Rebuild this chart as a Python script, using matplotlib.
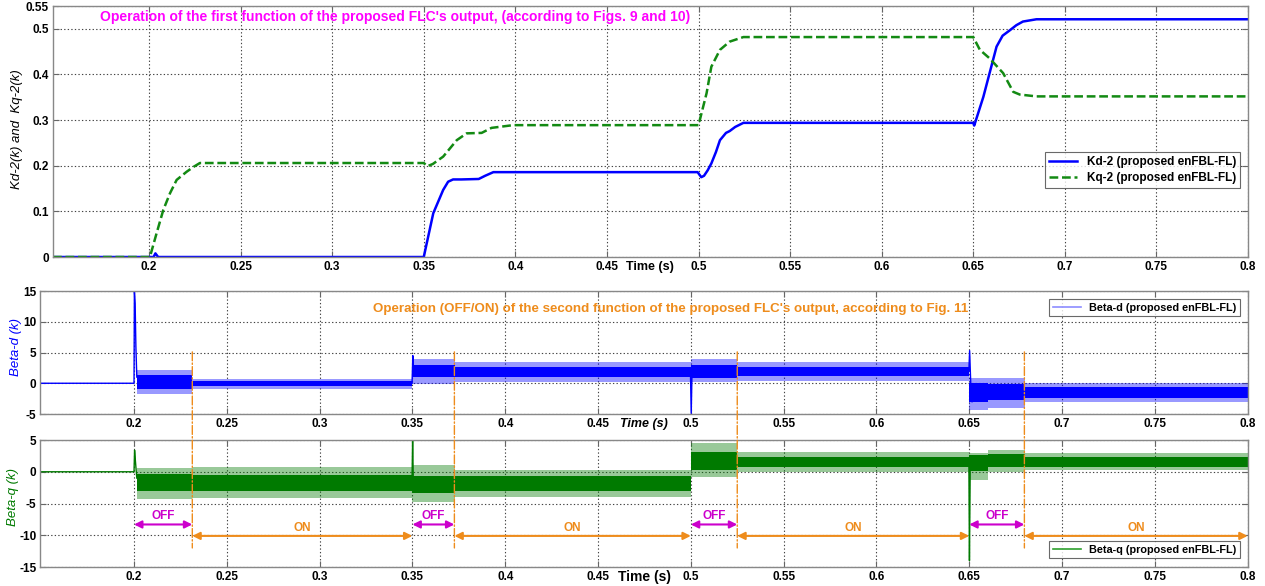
import numpy as np
import matplotlib
matplotlib.use("Agg")
import matplotlib.pyplot as plt
from matplotlib.patches import ConnectionPatch

plt.rcParams['font.family'] = ['Liberation Sans', 'DejaVu Sans']
plt.rcParams['font.weight'] = 'bold'

# ---- top panel: Kd-2 / Kq-2 ----
kd_t = [0.1476, 0.2025, 0.2035, 0.205, 0.35, 0.3552, 0.3606, 0.3633, 0.366, 0.3705, 0.380,
        0.3835, 0.388, 0.4995, 0.5015, 0.503, 0.505, 0.507, 0.5095, 0.5117, 0.515, 0.517,
        0.520, 0.5245, 0.65, 0.6505, 0.6555, 0.6627, 0.666, 0.670, 0.6735, 0.6771, 0.6845, 0.8]
kd_v = [0, 0, 0.008, 0, 0, 0.096, 0.147, 0.165, 0.170, 0.170, 0.171,
        0.178, 0.186, 0.186, 0.175, 0.178, 0.19, 0.205, 0.23, 0.256, 0.272, 0.276,
        0.285, 0.294, 0.294, 0.288, 0.351, 0.461, 0.485, 0.497, 0.508, 0.516, 0.521, 0.521]

kq_t = [0.1476, 0.2005, 0.204, 0.2078, 0.2115, 0.2151, 0.2206, 0.2245, 0.2278, 0.35, 0.352,
        0.355, 0.3606, 0.368, 0.3734, 0.3816, 0.387, 0.3988, 0.5, 0.5044, 0.507, 0.5117,
        0.517, 0.5245, 0.65, 0.6536, 0.659, 0.6663, 0.6718, 0.6754, 0.6845, 0.8]
kq_v = [0, 0, 0.05, 0.103, 0.14, 0.169, 0.187, 0.198, 0.206, 0.206, 0.199,
        0.204, 0.22, 0.256, 0.271, 0.272, 0.283, 0.289, 0.289, 0.359, 0.417, 0.454,
        0.472, 0.482, 0.482, 0.454, 0.435, 0.403, 0.362, 0.356, 0.352, 0.352]

# ---- middle / bottom panels: band envelopes per segment ----
seg_edges = [0.2015, 0.231, 0.35, 0.373, 0.5, 0.525, 0.65, 0.66, 0.68, 0.8]

bd_out_lo = [-1.7, -0.9, -0.1, 0.2, 0.2, 0.4, -4.4, -4.0, -3.1]
bd_out_hi = [2.1, 0.7, 4.0, 3.4, 3.9, 3.4, 0.8, 0.8, 0.0]
bd_in_lo = [-0.9, -0.5, 1.0, 1.0, 0.9, 1.1, -3.0, -2.8, -2.4]
bd_in_hi = [1.4, 0.4, 2.9, 2.6, 2.9, 2.7, 0.0, -0.2, -0.6]

bq_out_lo = [-4.3, -4.1, -4.7, -3.9, -0.8, 0.0, -1.3, 0.0, 0.3]
bq_out_hi = [0.6, 0.8, 1.0, 0.3, 4.5, 3.1, 3.0, 3.5, 3.0]
bq_in_lo = [-3.0, -3.1, -3.3, -3.0, 0.3, 0.8, 0.2, 0.7, 0.8]
bq_in_hi = [-0.4, -0.5, -0.6, -0.6, 3.1, 2.4, 2.6, 2.8, 2.4]

# transient spikes at the switching instants
bd_spikes = [([0.1496, 0.2, 0.2002, 0.2006, 0.201, 0.2015], [0, 0, 15, 13, 6, 1]),
             ([0.3498, 0.3502, 0.3506], [0, 4.5, 2]),
             ([0.4998, 0.5002, 0.5006], [1.5, -4.9, 1.5]),
             ([0.6498, 0.6502, 0.6508, 0.6515], [2, 5.3, 0, -3])]
bq_spikes = [([0.1496, 0.2, 0.2003, 0.2008, 0.2015], [0, 0, 3.4, 1.5, -1]),
             ([0.3498, 0.3501, 0.3505], [-1, 5, -2]),
             ([0.6498, 0.6501, 0.6505], [1.5, -14, 0])]

switch_t = [0.2314, 0.3726, 0.525, 0.6797]
off_spans = [(0.2, 0.2314), (0.35, 0.3726), (0.5, 0.525), (0.65, 0.6797)]
on_spans = [(0.2314, 0.35), (0.3726, 0.5), (0.525, 0.65), (0.6797, 0.8)]

xticks = [0.2, 0.25, 0.3, 0.35, 0.4, 0.45, 0.5, 0.55, 0.6, 0.65, 0.7, 0.75, 0.8]
xtick_labels = ['0.2', '0.25', '0.3', '0.35', '0.4', '0.45', '0.5', '0.55', '0.6', '0.65',
                '0.7', '0.75', '0.8']

BLUE = '#0000ff'
GREEN = '#138a13'
DGREEN = '#007a00'
MAGENTA = '#ff00ff'
PURPLE = '#cc00cc'
ORANGE = '#ee8c1c'

fig = plt.figure(figsize=(12.65, 5.86), dpi=100)
ax1 = fig.add_axes([0.0419, 0.5614, 0.9447, 0.4283])
ax2 = fig.add_axes([0.0320, 0.2935, 0.9543, 0.2099])
ax3 = fig.add_axes([0.0320, 0.0324, 0.9543, 0.2167])


def style(ax):
    ax.set_xticks(xticks)
    ax.set_xticklabels(xtick_labels)
    ax.grid(True, linestyle=(0, (1.2, 2.0)), color='#444444', linewidth=0.8)
    ax.set_axisbelow(True)
    ax.tick_params(direction='in', top=True, right=True, length=4, labelsize=8.5,
                   pad=3, color='#666666')
    for s in ax.spines.values():
        s.set_color('#888888')
        s.set_linewidth(1.0)


# top
ax1.plot(kd_t, kd_v, color=BLUE, lw=1.8, label='Kd-2 (proposed enFBL-FL)')
ax1.plot(kq_t, kq_v, color=GREEN, lw=1.8, ls=(0, (3.5, 1.5)), label='Kq-2 (proposed enFBL-FL)')
ax1.set_xlim(0.1476, 0.8)
ax1.set_ylim(0, 0.55)
style(ax1)
ax1.set_yticks([0, 0.1, 0.2, 0.3, 0.4, 0.5, 0.55])
ax1.set_yticklabels(['0', '0.1', '0.2', '0.3', '0.4', '0.5', '0.55'])
ax1.set_ylabel('Kd-2(k) and  Kq-2(k)', fontsize=9.5, style='italic')
ax1.yaxis.set_label_coords(-0.025, 0.51)
ax1.text(0.1733, 0.527, "Operation of the first function of the proposed FLC's output, (according to Figs. 9 and 10)",
         color=MAGENTA, fontsize=10, va='center', ha='left')
ax1.annotate('Time (s)', xy=(0.4735, 0), xycoords=('data', 'axes fraction'),
             xytext=(0, -3), textcoords='offset points', ha='center', va='top', fontsize=9)
leg = ax1.legend(loc='upper right', bbox_to_anchor=(0.9985, 0.442), fontsize=8.5,
                 fancybox=False, edgecolor='#444444', handlelength=2.4, borderpad=0.35,
                 labelspacing=0.35)
leg.get_frame().set_linewidth(0.8)


def band(ax, lo_out, hi_out, lo_in, hi_in, color):
    lo_o = lo_out + [lo_out[-1]]
    hi_o = hi_out + [hi_out[-1]]
    lo_i = lo_in + [lo_in[-1]]
    hi_i = hi_in + [hi_in[-1]]
    ax.fill_between(seg_edges, lo_o, hi_o, step='post', color=color, alpha=0.4, lw=0)
    ax.fill_between(seg_edges, lo_i, hi_i, step='post', color=color, alpha=1.0, lw=0)


# middle
band(ax2, bd_out_lo, bd_out_hi, bd_in_lo, bd_in_hi, BLUE)
for st, sv in bd_spikes:
    ax2.plot(st, sv, color=BLUE, lw=1.0)
ax2.plot([], [], color='#8c8cff', lw=1.2, label='Beta-d (proposed enFBL-FL)')
ax2.set_xlim(0.1496, 0.8)
ax2.set_ylim(-5, 15)
style(ax2)
ax2.set_yticks([-5, 0, 5, 10, 15])
ax2.set_yticklabels(['-5', '0', '5', '10', '15'])
ax2.set_ylabel('Beta-d (k)', fontsize=9.5, style='italic', color=BLUE)
ax2.yaxis.set_label_coords(-0.0153, 0.547)
ax2.text(0.3288, 12.0, "Operation (OFF/ON) of the second function of the proposed FLC's output, according to Fig. 11",
         color=ORANGE, fontsize=9.6, va='center', ha='left')
ax2.annotate('Time (s)', xy=(0.4748, 0), xycoords=('data', 'axes fraction'),
             xytext=(0, -3), textcoords='offset points', ha='center', va='top',
             fontsize=9, style='italic')
leg = ax2.legend(loc='upper right', bbox_to_anchor=(0.998, 0.977), fontsize=7.8,
                 fancybox=False, edgecolor='#444444', handlelength=2.6, borderpad=0.3)
leg.get_frame().set_linewidth(0.8)

# bottom
band(ax3, bq_out_lo, bq_out_hi, bq_in_lo, bq_in_hi, DGREEN)
for st, sv in bq_spikes:
    ax3.plot(st, sv, color=DGREEN, lw=1.0)
ax3.plot([], [], color='#2ea02e', lw=1.2, label='Beta-q (proposed enFBL-FL)')
ax3.set_xlim(0.1496, 0.8)
ax3.set_ylim(-15, 5)
style(ax3)
ax3.set_yticks([-15, -10, -5, 0, 5])
ax3.set_yticklabels(['-15', '-10', '-5', '0', '5'])
ax3.set_ylabel('Beta-q (k)', fontsize=9.5, style='italic', color=DGREEN)
ax3.yaxis.set_label_coords(-0.018, 0.553)
ax3.annotate('Time (s)', xy=(0.4748, 0), xycoords=('data', 'axes fraction'),
             xytext=(0, -2), textcoords='offset points', ha='center', va='top', fontsize=10)
leg = ax3.legend(loc='lower right', bbox_to_anchor=(0.998, 0.03), fontsize=7.8,
                 fancybox=False, edgecolor='#444444', handlelength=2.6, borderpad=0.3)
leg.get_frame().set_linewidth(0.8)

for t0, t1 in off_spans:
    ax3.annotate('', xy=(t1, -8.3), xytext=(t0, -8.3),
                 arrowprops=dict(arrowstyle='<|-|>', color=PURPLE, lw=1.5,
                                 shrinkA=0, shrinkB=0, mutation_scale=11))
    ax3.text((t0 + t1) / 2, -6.9, 'OFF', color=PURPLE, fontsize=8.5, ha='center', va='center')
for t0, t1 in on_spans:
    ax3.annotate('', xy=(t1, -10.1), xytext=(t0, -10.1),
                 arrowprops=dict(arrowstyle='<|-|>', color=ORANGE, lw=1.5,
                                 shrinkA=0, shrinkB=0, mutation_scale=11))
    ax3.text((t0 + t1) / 2, -8.8, 'ON', color=ORANGE, fontsize=8.5, ha='center', va='center')

# dash-dot switching markers spanning middle and bottom panels
for t in switch_t:
    cp = ConnectionPatch(xyA=(t, 5.1), coordsA=ax2.transData, xyB=(t, -12.0),
                         coordsB=ax3.transData, color=ORANGE, lw=1.0, linestyle='-.')
    fig.add_artist(cp)

fig.savefig('out.png', dpi=100)
